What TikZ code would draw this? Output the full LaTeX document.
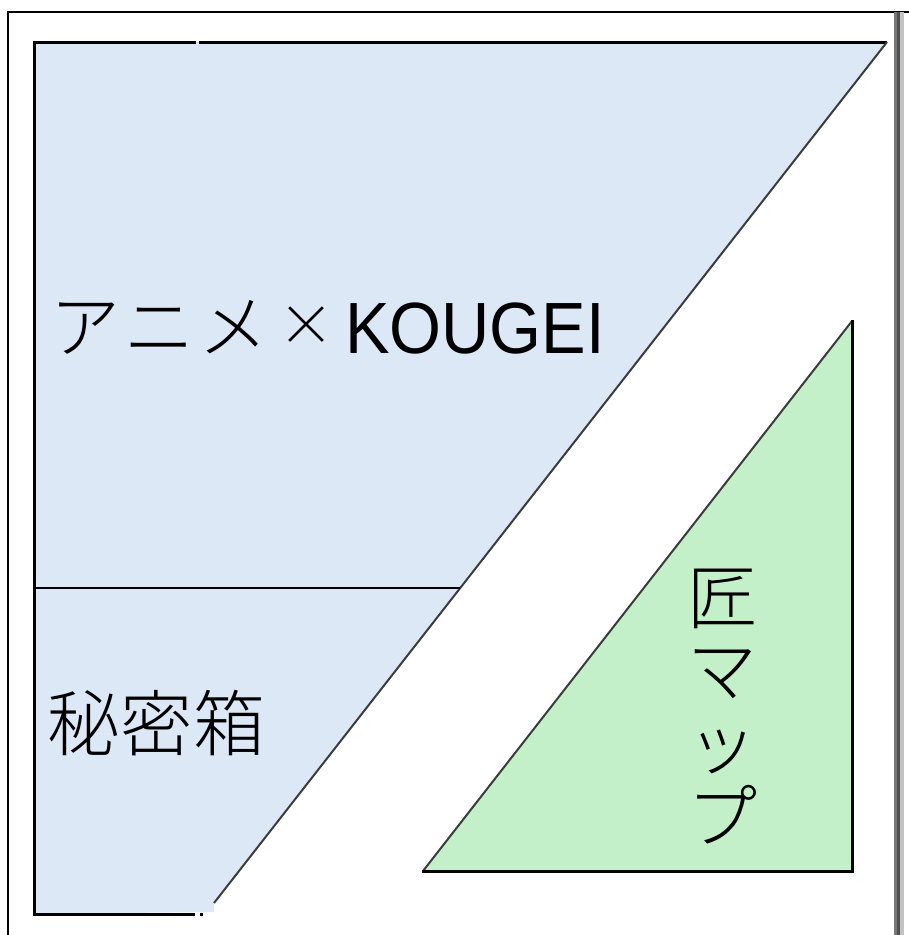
\documentclass[tikz,border=0pt]{standalone}
\usepackage{fontspec}
\usepackage{graphicx}
\setmainfont{Liberation Sans}
\newfontfamily\cjk{Noto Sans CJK JP}[UprightFont={* Light}]
\definecolor{boxblue}{RGB}{220,232,245}
\definecolor{boxgreen}{RGB}{195,240,200}
\definecolor{diag}{RGB}{60,60,60}
\begin{document}
\begin{tikzpicture}[x=1pt,y=-1pt,
  edge/.style={line width=3pt,black},
  slant/.style={line width=2pt,diag},
  jp/.style={font=\cjk\fontsize{70}{73}\selectfont,inner sep=0pt},
]
\useasboundingbox[fill=white] (0,0) rectangle (909,935);
% outer frame
\draw[line width=2pt] (8,935) -- (8,12) -- (909,12);
\draw[line width=3pt,color={rgb,255:red,120;green,120;blue,120}] (895.5,12) -- (895.5,935);
\draw[line width=3pt,color={rgb,255:red,80;green,80;blue,80}] (898.5,12) -- (898.5,935);
\draw[line width=4pt,color={rgb,255:red,195;green,195;blue,195}] (902,12) -- (902,935);
% blue shape
\coordinate (tl) at (34,42);
\coordinate (tr) at (887,42);
\coordinate (be) at (214,903);
\coordinate (bl) at (34,914);
\coordinate (bm) at (195,914);
\coordinate (dl) at (34,588);
\coordinate (dr) at (460,588);
\fill[boxblue] (tl) -- (tr) -- (be) -- (214,912) -- (bl) -- cycle;
\draw[edge] (bm) -- (bl) -- (tl) -- (196,42);
\draw[edge] (199,42) -- (tr);
\draw[slant] (tr) -- (be);
\draw[line width=2.5pt] (dl) -- (dr);
\fill (200,913) rectangle (203,916);
% green triangle
\coordinate (ga) at (423,871);
\coordinate (gb) at (852,871);
\coordinate (gc) at (852,321);
\fill[boxgreen] (ga) -- (gb) -- (gc) -- cycle;
\draw[slant] (ga) -- (gc);
\draw[edge,line cap=rect] (ga) -- (gb) -- (gc);
% texts
\node[jp,anchor=base west] (anime) at (50,352) {ア\hspace{4pt}ニ\hspace{4pt}メ};
\node[font=\cjk\fontsize{56}{60}\selectfont,inner sep=0pt] (times) at (306,326) {×};
\node[anchor=base west,inner sep=0pt,font=\fontsize{72.6}{80}\selectfont] (kougei) at (345,353) {\scalebox{0.92}[1]{KOUGEI}};
\node[jp,anchor=west,font=\cjk\fontsize{72}{73}\selectfont] (himitsu) at (47,723) {秘\hspace{1pt}密\hspace{1pt}箱};
\node[jp,align=center] (takumi) at (722,707) {匠\\マ\\ッ\\プ};
\end{tikzpicture}
\end{document}
